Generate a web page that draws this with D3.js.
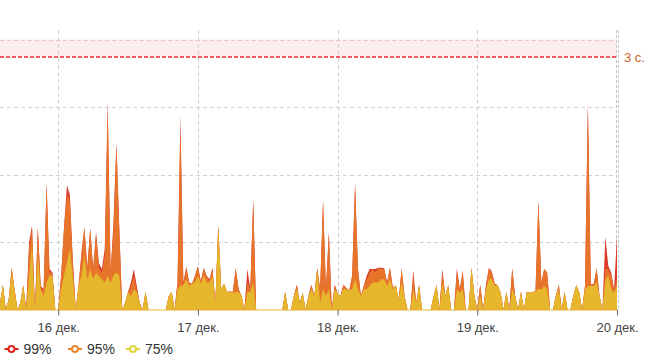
<!DOCTYPE html>
<html><head><meta charset="utf-8">
<script src="https://cdn.jsdelivr.net/npm/d3@7"></script>
<style>
html,body{margin:0;padding:0;background:#fff;}
svg{display:block;font-family:"Liberation Sans",Arial,sans-serif;}
</style></head>
<body><svg id="c" width="664" height="356"></svg>
<script>
// ---- data (30-minute samples, 15 Dec 14:00 .. 20 Dec 00:00) ----
const startTime = new Date(2023, 11, 15, 14, 0);
const stepMinutes = 30;
const seriesNames = ["99%", "95%", "75%"];
const p75 = [0.1,0.36,0,0.15,0.55,0.3,0,0.1,0.36,0,
0.5,0.95,0,0.8,0.3,0.2,0.4,0.5,0.5,0,
0,0.3,0.5,0.7,0.9,0.5,0,0.36,0.5,0.8,
0.45,0.6,0.45,0.55,0.5,0.45,0.4,0.5,0.4,0.5,
0.55,0.5,0,0.1,0.26,0.2,0.3,0.26,0.1,0,
0.26,0,0,0,0,0,0,0,0.2,0.26,
0,0.3,0.35,0.36,0.45,0.35,0.38,0.4,0.5,0.38,
0.5,0.4,0.4,0.5,0.1,1.24,0.3,0.38,0.26,0.26,
0.25,0.26,0.26,0.2,0,0.26,0.26,0.4,0,0,
0,0,0,0,0,0,0,0,0.26,0,
0,0.2,0.3,0.1,0.25,0,0.2,0.3,0.2,0.6,
0.1,0.3,0.2,0.3,0,0.3,0.24,0.2,0.3,0.3,
0.28,0.3,0.45,0.3,0.2,0.3,0.3,0.35,0.4,0.4,
0.4,0.45,0.45,0.35,0.45,0.3,0.36,0.15,0.4,0.2,
0,0,0.3,0.1,0.36,0,0,0,0,0.2,
0.36,0,0.4,0.2,0.36,0,0,0.3,0.25,0.3,
0,0,0.62,0.2,0,0.2,0,0.3,0.45,0.45,
0.35,0.36,0.25,0,0.26,0,0.3,0.2,0,0.26,
0,0.26,0.25,0.26,0.27,0.3,0.3,0.35,0.3,0,
0,0.2,0.3,0,0.26,0,0,0.2,0.36,0.26,
0,0.3,0.35,0.35,0.35,0.4,0.2,0,0.45,0.5,
0.3,0.25,0.35];
const p95 = [0.1,0.36,0,0.15,0.6,0.3,0,0.1,0.36,0,
0.9,1.22,0,1.2,0.3,0.3,1.84,0.55,0.55,0,
0,0.5,1.2,1.7,1.6,0.7,0,0.36,0.8,1.2,
0.6,1.2,0.6,1.1,0.62,0.55,0.8,3.0,0.55,1.2,
2.45,1.15,0,0.1,0.26,0.35,0.5,0.3,0.1,0,
0.26,0,0,0,0,0,0,0,0.2,0.26,
0,0.4,2.7,0.37,0.62,0.4,0.38,0.5,0.63,0.42,
0.6,0.5,0.42,0.6,0.1,1.24,0.3,0.38,0.26,0.26,
0.26,0.6,0.3,0.2,0,0.4,0.3,1.62,0,0,
0,0,0,0,0,0,0,0,0.26,0,
0,0.2,0.36,0.1,0.25,0,0.2,0.36,0.2,0.6,
0.3,1.6,0.3,1.12,0,0.36,0.24,0.2,0.36,0.32,
0.28,0.5,1.84,0.6,0.2,0.35,0.45,0.55,0.6,0.55,
0.62,0.6,0.6,0.4,0.62,0.3,0.36,0.15,0.6,0.2,
0,0,0.5,0.1,0.36,0,0,0,0,0.2,
0.36,0,0.55,0.2,0.36,0,0,0.55,0.3,0.55,
0,0,0.62,0.2,0,0.36,0,0.36,0.6,0.55,
0.38,0.36,0.25,0,0.26,0,0.6,0.2,0,0.26,
0,0.26,0.25,0.26,0.27,1.6,0.4,0.6,0.55,0,
0,0.2,0.36,0,0.26,0,0,0.2,0.36,0.26,
0,0.34,3.0,0.36,0.38,0.6,0.2,0,0.6,0.6,
0.5,0.3,0.45];
const p99 = [0.1,0.36,0,0.15,0.62,0.3,0,0.1,0.36,0,
1.0,1.24,0,1.22,0.35,0.3,1.88,0.6,0.55,0,
0,0.5,1.22,1.84,1.7,0.75,0,0.36,0.85,1.22,
0.62,1.2,0.6,1.15,0.68,0.6,0.9,3.07,0.55,1.3,
2.47,1.2,0,0.1,0.26,0.4,0.6,0.35,0.1,0,
0.26,0,0,0,0,0,0,0,0.2,0.26,
0,0.4,2.88,0.4,0.63,0.4,0.38,0.5,0.64,0.42,
0.62,0.5,0.45,0.62,0.1,1.25,0.3,0.38,0.26,0.27,
0.26,0.61,0.3,0.2,0,0.6,0.3,1.63,0,0,
0,0,0,0,0,0,0,0,0.26,0,
0,0.2,0.37,0.1,0.25,0,0.2,0.37,0.2,0.62,
0.3,1.62,0.3,1.15,0,0.37,0.24,0.2,0.37,0.32,
0.28,0.5,1.86,0.6,0.2,0.35,0.5,0.6,0.6,0.6,
0.62,0.62,0.61,0.4,0.62,0.32,0.36,0.15,0.6,0.2,
0,0,0.58,0.1,0.36,0,0,0,0,0.2,
0.36,0,0.6,0.2,0.36,0,0,0.61,0.3,0.58,
0,0,0.62,0.2,0,0.37,0,0.37,0.62,0.56,
0.38,0.36,0.25,0,0.26,0,0.61,0.2,0,0.26,
0,0.26,0.25,0.26,0.27,1.62,0.4,0.6,0.55,0,
0,0.2,0.37,0,0.26,0,0,0.2,0.36,0.26,
0,0.35,3.06,0.37,0.38,0.61,0.2,0,1.08,0.65,
0.55,0.3,1.1];
const gridValues = [1, 2, 3];
const yMax = 4;
const thresholdValue = 3.74;
const thresholdLabel = "3 с.";
const monthsShort = ["янв.","фев.","мар.","апр.","мая","июн.","июл.","авг.","сен.","окт.","нояб.","дек."];

// ---- layout ----
const svg = d3.select("#c");
const plotLeft = 0, plotRight = 617, plotTop = 39.5, plotBottom = 309.5;
const times = p75.map((_, i) => new Date(startTime.getTime() + i * stepMinutes * 60000));
const x = d3.scaleTime().domain([times[0], times[times.length - 1]]).range([plotLeft, plotRight]);
const y = d3.scaleLinear().domain([0, yMax]).range([plotBottom, plotTop]);

// threshold band
svg.append("rect").attr("x", plotLeft).attr("y", y(yMax)).attr("width", plotRight - plotLeft)
  .attr("height", y(thresholdValue) - y(yMax)).attr("fill", "#fdeeee");
svg.append("line").attr("x1", plotLeft).attr("x2", plotRight).attr("y1", Math.round(y(yMax)) + 0.5).attr("y2", Math.round(y(yMax)) + 0.5)
  .attr("stroke", "#f2c4c4").attr("stroke-dasharray", "4,3");

// grid horizontal
svg.append("g").selectAll("line").data(gridValues).join("line")
  .attr("x1", plotLeft).attr("x2", plotRight)
  .attr("y1", d => Math.round(y(d)) + 0.5).attr("y2", d => Math.round(y(d)) + 0.5)
  .attr("stroke", "#d0d0d0").attr("stroke-dasharray", "4,3");

// day ticks
const dayTicks = x.ticks(d3.timeDay.every(1));
svg.append("g").selectAll("line").data(dayTicks.filter(d => x(d) < plotRight - 5)).join("line")
  .attr("x1", d => Math.round(x(d)) + 0.5).attr("x2", d => Math.round(x(d)) + 0.5)
  .attr("y1", 30).attr("y2", plotBottom)
  .attr("stroke", "#d0d0d0").attr("stroke-dasharray", "4,3");

// right "now" double line
[plotRight - 0.5, plotRight + 1.5].forEach(px => {
  svg.append("line").attr("x1", px).attr("x2", px).attr("y1", 30).attr("y2", plotBottom)
    .attr("stroke", "#c8c8c8").attr("stroke-dasharray", "3,2");
});

// areas
const colors = {"99%": "#d83a2c", "95%": "#e6752b", "75%": "#e6b72d"};
const seriesData = {"99%": p99, "95%": p95, "75%": p75};
const area = d3.area().x((d, i) => x(times[i])).y0(plotBottom).y1(d => y(d)).curve(d3.curveLinear);
seriesNames.forEach(n => {
  svg.append("path").datum(seriesData[n]).attr("d", area).attr("fill", colors[n]);
});

// threshold line
svg.append("path")
  .attr("d", `M${plotLeft},${y(thresholdValue)}H${plotRight}`)
  .attr("fill", "none")
  .attr("stroke", "rgb(235,45,40)").attr("stroke-width", 1.6).attr("stroke-dasharray", "4,2");
svg.append("text").attr("x", plotRight + 7).attr("y", y(thresholdValue) + 5)
  .attr("font-size", 13).attr("fill", "#d0622f").text(thresholdLabel);

// x axis
const xAxis = d3.axisBottom(x).tickValues(dayTicks).tickSize(6).tickSizeOuter(0)
  .tickFormat(d => d.getDate() + " " + monthsShort[d.getMonth()]);
const gx = svg.append("g").attr("transform", `translate(0,${plotBottom})`).call(xAxis);
gx.select(".domain").attr("stroke", "#e6b72d");
gx.selectAll(".tick line").attr("stroke", "#666");
gx.selectAll(".tick text").attr("font-size", 13).attr("fill", "#444").attr("dy", "1.05em")
  .attr("font-family", "Liberation Sans, Arial, sans-serif");

// legend
const legendColors = {"99%": "#e0241d", "95%": "#e8862b", "75%": "#e3d43a"};
const legendCx = [11.5, 75, 133];
const lg = svg.append("g");
seriesNames.forEach((n, k) => {
  const g = lg.append("g").attr("transform", `translate(${legendCx[k]},349)`);
  g.append("line").attr("x1", -7).attr("x2", 7).attr("y1", 0).attr("y2", 0).attr("stroke", legendColors[n]).attr("stroke-width", 2);
  g.append("circle").attr("cx", 0).attr("cy", 0).attr("r", 3).attr("fill", "#fff").attr("stroke", legendColors[n]).attr("stroke-width", 2);
  g.append("text").attr("x", 12).attr("y", 5).attr("font-size", 14).attr("fill", "#333").text(n);
});
</script></body></html>
